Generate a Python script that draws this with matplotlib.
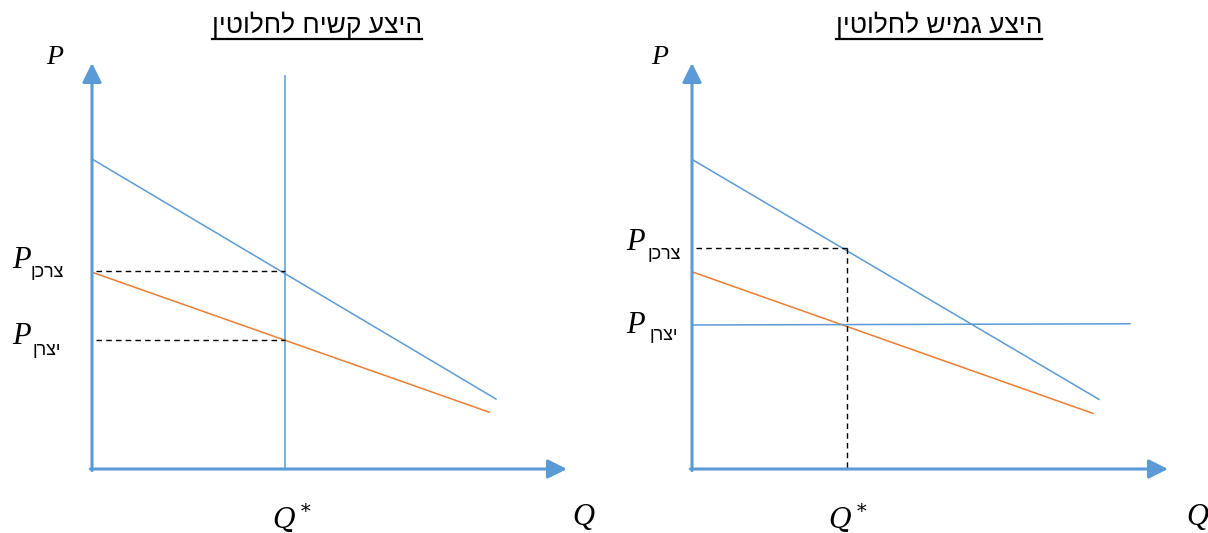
import numpy as np
import matplotlib
matplotlib.use('Agg')
import matplotlib.pyplot as plt
from matplotlib.lines import Line2D

# Hebrew texts (matplotlib has no bidi, so strings are reversed when drawn)
titulo_izq = 'היצע קשיח לחלוטין'
titulo_der = 'היצע גמיש לחלוטין'
sub_cons = 'צרכן'
sub_prod = 'יצרן'

# Left panel: perfectly inelastic supply
dem_q_l = [0.0, 10.1];  dem_p_l = [7.75, 1.75]
dem2_q_l = [0.0, 9.93]; dem2_p_l = [4.92, 1.42]
q_star_l = 4.825; sup_top_l = 9.825
p_cons_l = 4.95; p_prod_l = 3.22

# Right panel: perfectly elastic supply
dem_q_r = [0.0, 10.175]; dem_p_r = [7.74, 1.74]
dem2_q_r = [0.0, 10.025]; dem2_p_r = [4.93, 1.39]
sup_q_r = [0.0, 10.95];  sup_p_r = [3.6, 3.63]
q_star_r = 3.875; p_cons_r = 5.525

q_tip_l = 11.875; q_tip_r = 11.9; p_tip = 10.15

azul = '#5B9BD5'
naranja = '#ED7D31'
heb = ['Liberation Sans', 'DejaVu Sans']
mat = ['Liberation Serif', 'DejaVu Serif']

def rtl(s):
    return s[::-1]

fig = plt.figure(figsize=(12.08, 5.33), dpi=100)
ax1 = fig.add_axes([0, 0, 0.5, 1])
ax2 = fig.add_axes([0.5, 0, 0.5, 1])
ax1.set_xlim(-2.3, 12.8)
ax2.set_xlim(-2.2, 12.9)
for ax in (ax1, ax2):
    ax.set_ylim(-1.6, 11.725)
    ax.axis('off')

def ejes(ax, q_tip):
    flecha = dict(arrowstyle='-|>,head_length=0.58,head_width=0.29',
                  color=azul, lw=2.2, mutation_scale=20, shrinkA=0, shrinkB=0)
    ax.annotate('', xy=(0, p_tip), xytext=(0, -0.04), arrowprops=flecha)
    ax.annotate('', xy=(q_tip, 0), xytext=(-0.04, 0), arrowprops=flecha)

# ---- izquierda
ejes(ax1, q_tip_l)
ax1.plot(dem_q_l, dem_p_l, color=azul, lw=1.1)
ax1.plot(dem2_q_l, dem2_p_l, color=naranja, lw=1.1)
ax1.plot([q_star_l, q_star_l], [0, sup_top_l], color=azul, lw=1.1)
ax1.plot([0.1, q_star_l], [p_cons_l, p_cons_l], 'k--', lw=1, dashes=(4, 3))
ax1.plot([0.1, q_star_l], [p_prod_l, p_prod_l], 'k--', lw=1, dashes=(4, 3))

# ---- derecha
ejes(ax2, q_tip_r)
ax2.plot(dem_q_r, dem_p_r, color=azul, lw=1.1)
ax2.plot(dem2_q_r, dem2_p_r, color=naranja, lw=1.1)
ax2.plot(sup_q_r, sup_p_r, color=azul, lw=1.1)
ax2.plot([0.1, q_star_r], [p_cons_r, p_cons_r], 'k--', lw=1, dashes=(4, 3))
ax2.plot([q_star_r, q_star_r], [p_cons_r, 0], 'k--', lw=1, dashes=(4, 3))

# ---- textos
titulos = []
for ax, t, xt in [(ax1, titulo_izq, 5.625), (ax2, titulo_der, 6.175)]:
    titulos.append(ax.text(xt, 11.1, rtl(t), family=heb, fontsize=19,
                           ha='center', va='center'))

def etiqueta_p(ax, xp, yp, xs, ys, sub):
    ax.text(xp, yp, 'P', family=mat, style='italic', fontsize=22,
            ha='center', va='center')
    ax.text(xs, ys, rtl(sub), family=heb, fontsize=13, ha='center', va='center')

ax1.text(-0.925, 10.275, 'P', family=mat, style='italic', fontsize=20,
         ha='center', va='center')
ax2.text(-0.8, 10.275, 'P', family=mat, style='italic', fontsize=20,
         ha='center', va='center')
etiqueta_p(ax1, -1.76, 5.2, -1.125, 4.9, sub_cons)
etiqueta_p(ax1, -1.76, 3.3, -1.125, 2.95, sub_prod)
etiqueta_p(ax2, -1.425, 5.65, -0.7, 5.35, sub_cons)
etiqueta_p(ax2, -1.425, 3.575, -0.7, 3.325, sub_prod)

for ax, xq, xqq in [(ax1, 5.0, 12.275), (ax2, 3.9, 12.625)]:
    ax.text(xq, -1.225, r'$Q^*$', fontsize=20, ha='center', va='center',
            math_fontfamily='dejavuserif')
    ax.text(xqq, -1.225, 'Q', family=mat, style='italic', fontsize=22,
            ha='center', va='center')

# subrayado de los titulos
fig.canvas.draw()
r = fig.canvas.get_renderer()
for t in titulos:
    bb = t.get_window_extent(r)
    fig.add_artist(Line2D([bb.x0, bb.x1], [bb.y0 - 1, bb.y0 - 1],
                          transform=None, color='black', lw=1.6))

fig.savefig('out.png', dpi=100)
